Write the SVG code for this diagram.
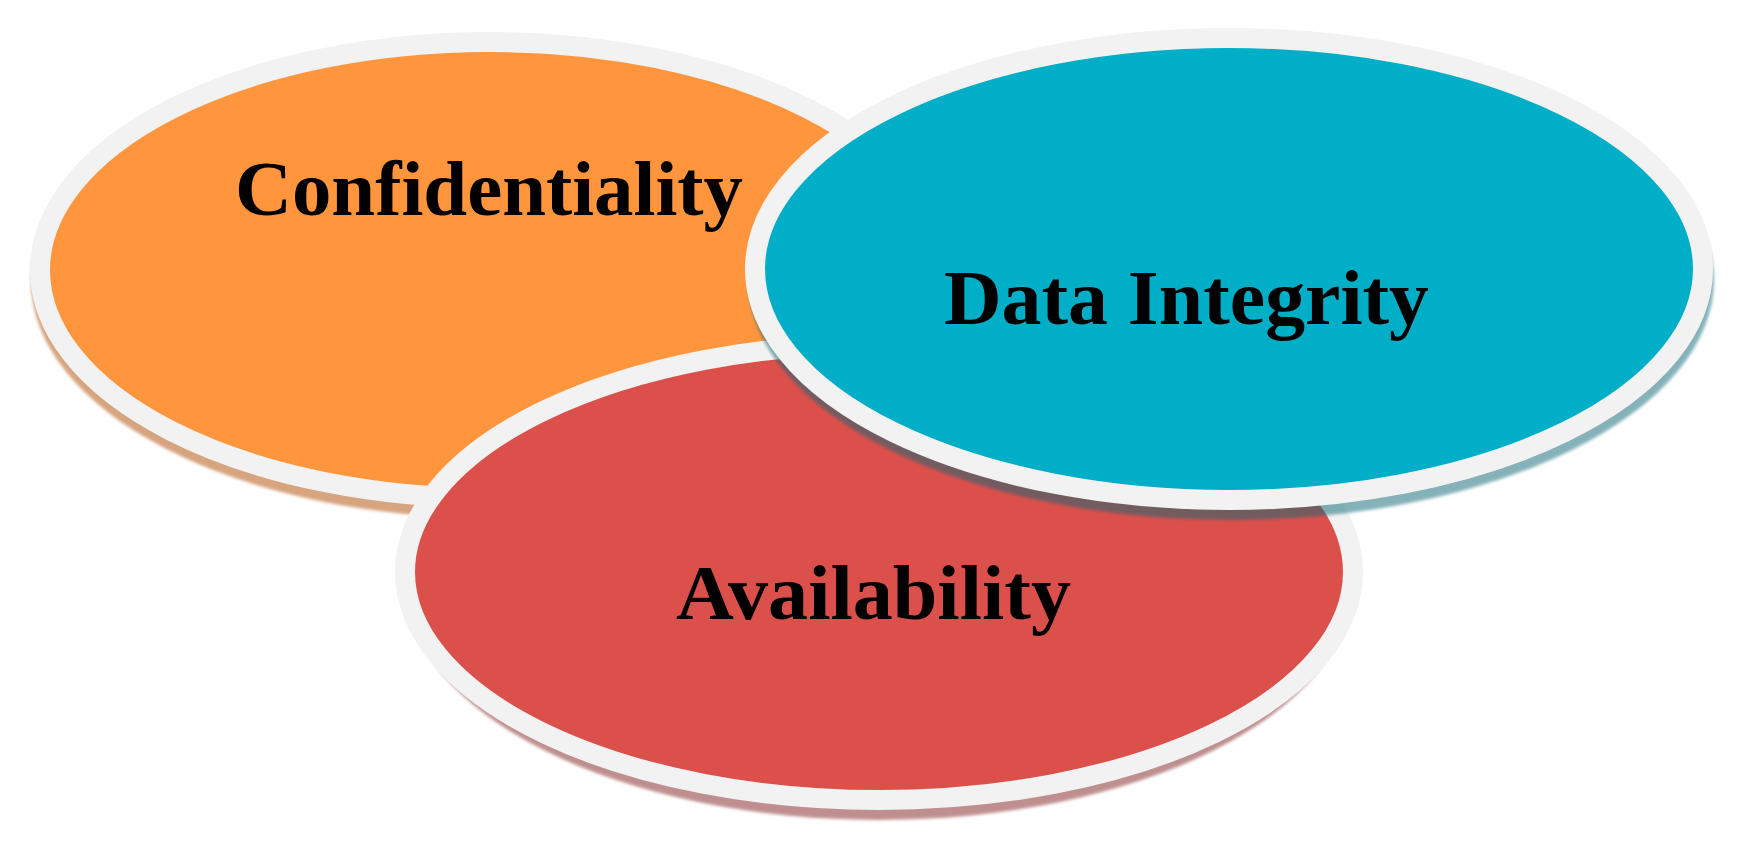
<svg xmlns="http://www.w3.org/2000/svg" width="1752" height="849" viewBox="0 0 1752 849">
  <defs>
    <filter id="soft" x="-5%" y="-5%" width="110%" height="110%">
      <feGaussianBlur stdDeviation="1.5"/>
    </filter>
    <style>
      .ring { stroke: #f2f2f2; stroke-width: 20; }
      .shadow { filter: url(#soft); opacity: 0.5; }
      .label { font-family: "Liberation Serif", "Times New Roman", serif; font-weight: bold; font-size: 79px; fill: #000; }
    </style>
  </defs>
  <rect width="1752" height="849" fill="#ffffff"/>

  <g id="confidentiality">
    <ellipse class="shadow" cx="490" cy="281" rx="459" ry="237" fill="#af4b05"/>
    <ellipse class="ring" cx="490" cy="270" rx="450" ry="228" fill="#ff963e"/>
    <text class="label" x="235" y="215" textLength="508" lengthAdjust="spacingAndGlyphs">Confidentiality</text>
  </g>

  <g id="availability">
    <ellipse class="shadow" cx="879" cy="583" rx="473" ry="237" fill="#812323"/>
    <ellipse class="ring" cx="879" cy="572" rx="474" ry="228" fill="#dc504c"/>
    <text class="label" x="676" y="619" textLength="395" lengthAdjust="spacingAndGlyphs">Availability</text>
  </g>

  <g id="data-integrity">
    <ellipse class="shadow" cx="1231" cy="280" rx="483" ry="240" fill="#0d6775"/>
    <ellipse class="ring" cx="1229" cy="269" rx="474" ry="231" fill="#00aec7"/>
    <text class="label" x="944" y="324" textLength="485" lengthAdjust="spacingAndGlyphs">Data Integrity</text>
  </g>
</svg>
